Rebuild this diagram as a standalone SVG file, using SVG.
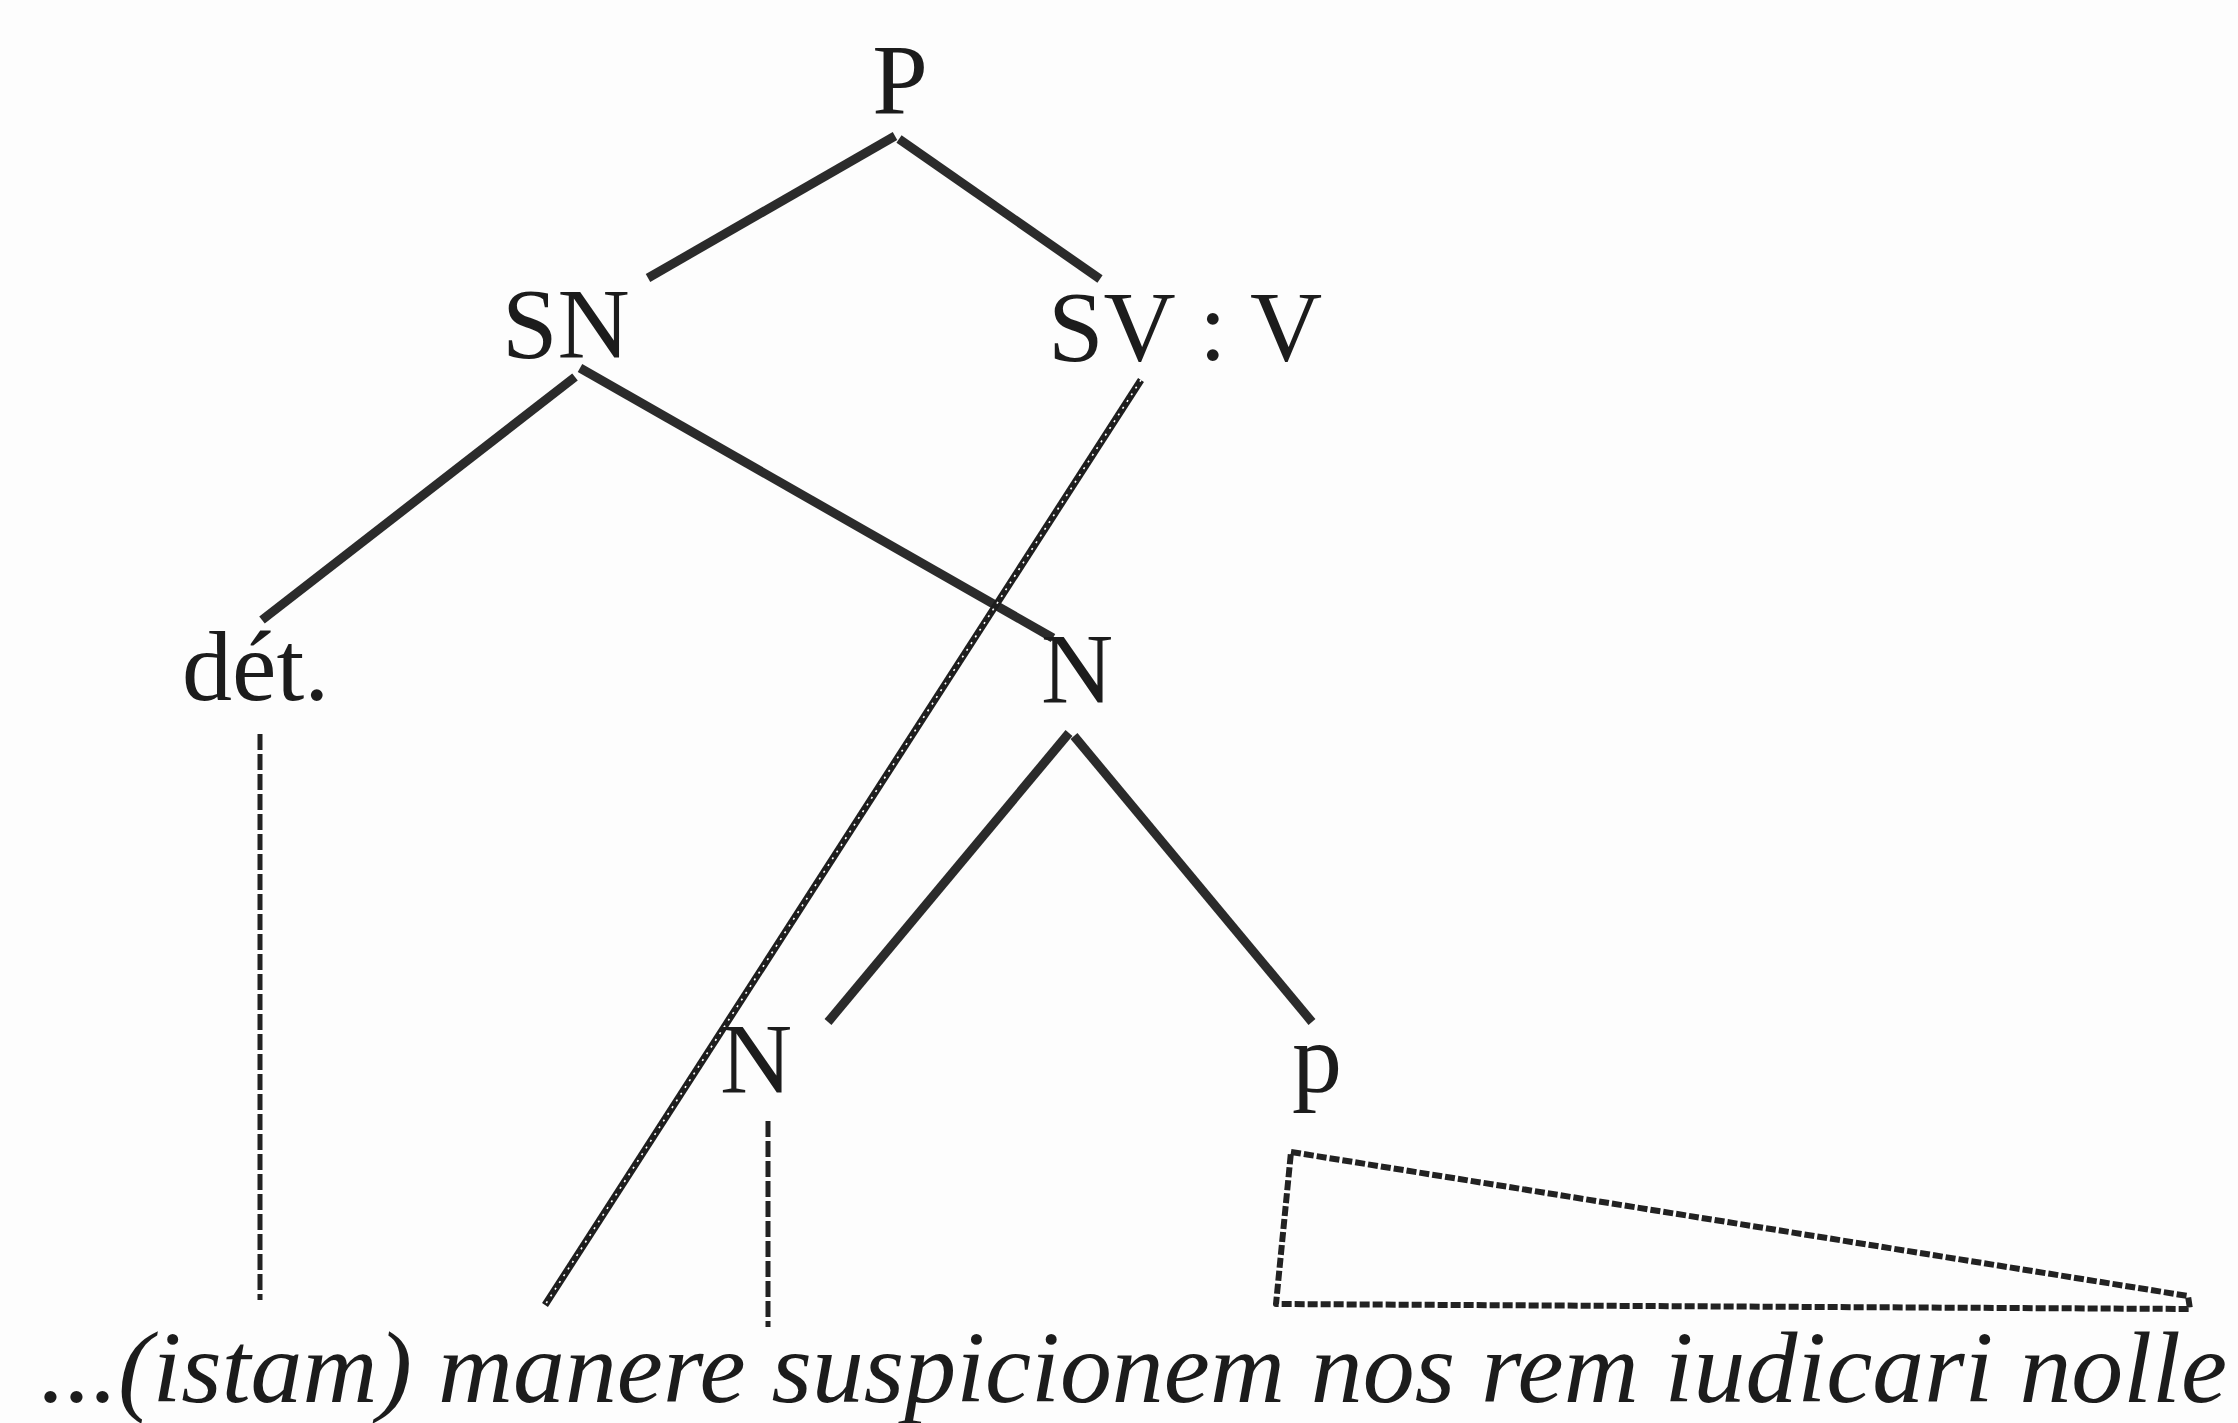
<svg xmlns="http://www.w3.org/2000/svg" width="2238" height="1423" viewBox="0 0 2238 1423">
<style>
.lbl{font-family:"Liberation Serif","Times New Roman",serif;font-size:100px;fill:#1c1c1c}
.sent{font-family:"Liberation Serif","Times New Roman",serif;font-size:102px;font-style:italic;fill:#1c1c1c}
.edge{stroke:#2b2b2b;stroke-width:9;fill:none;stroke-linecap:butt}
.hatch{stroke:#1e1e1e;stroke-width:7;fill:none}
.hatchw{stroke:#ffffff;stroke-width:1.6;fill:none;stroke-dasharray:2 6}
.dash{stroke:#222;stroke-width:5;fill:none;stroke-dasharray:16 4}
.tri{stroke:#222;stroke-width:6;fill:none;stroke-dasharray:10 3;stroke-linejoin:round}
</style>
<rect width="2238" height="1423" fill="#fdfdfd"/>
<g id="connectors">
<line class="edge" x1="895" y1="136" x2="648" y2="278"/>
<line class="edge" x1="899" y1="139" x2="1100" y2="279"/>
<line class="edge" x1="575" y1="377" x2="262" y2="620"/>
<line class="edge" x1="580" y1="368" x2="1053" y2="638"/>
<line class="edge" x1="1069" y1="733" x2="828" y2="1022"/>
<line class="edge" x1="1074" y1="736" x2="1312" y2="1022"/>
<line class="hatch" x1="1141" y1="380" x2="545" y2="1305"/>
<line class="hatchw" x1="1141" y1="380" x2="545" y2="1305"/>
<line class="dash" x1="260" y1="734" x2="260" y2="1300"/>
<line class="dash" x1="768" y1="1121" x2="768" y2="1327"/>
<polygon class="tri" points="1291,1152 2188,1296 2190,1309 1276,1304"/>
</g>
<g id="node-P"><text class="lbl" x="900" y="113" text-anchor="middle">P</text></g>
<g id="node-SN"><text class="lbl" x="502" y="357">SN</text></g>
<g id="node-SV"><text class="lbl" x="1048" y="360">SV : V</text></g>
<g id="node-det"><text class="lbl" x="182" y="700">dét.</text></g>
<g id="node-N1"><text class="lbl" x="1041" y="702">N</text></g>
<g id="node-N2"><text class="lbl" x="720" y="1092">N</text></g>
<g id="node-p"><text class="lbl" x="1292" y="1092">p</text></g>
<g id="sentence"><text class="sent" x="40" y="1402" textLength="2187" lengthAdjust="spacingAndGlyphs">...(istam) manere suspicionem nos rem iudicari nolle</text></g>
</svg>
